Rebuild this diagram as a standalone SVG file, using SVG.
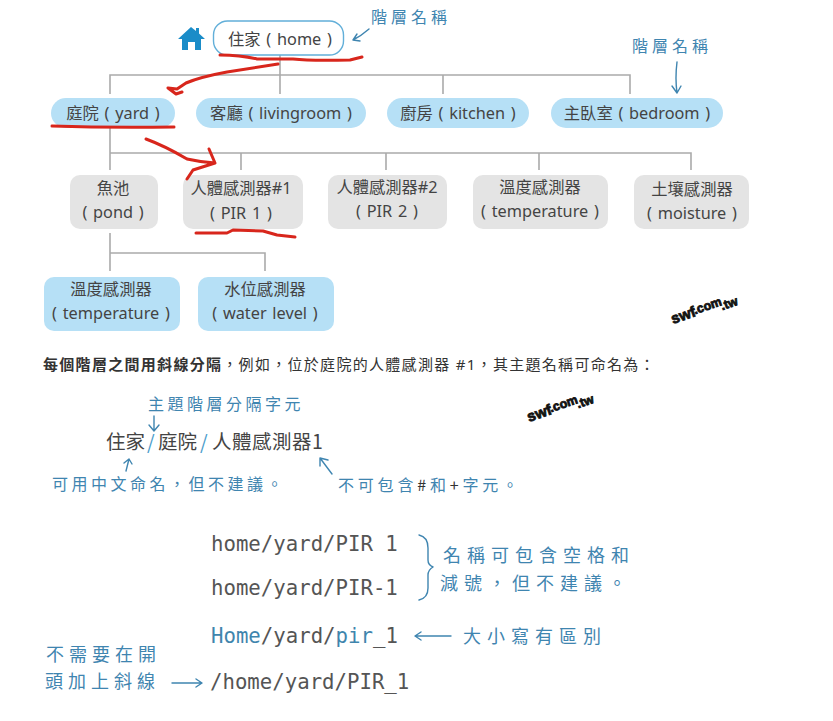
<svg xmlns="http://www.w3.org/2000/svg" width="833" height="721" viewBox="0 0 833 721">
<style>
.n{font-family:"Noto Sans","Noto Sans CJK TC",sans-serif;font-size:16.300px;word-spacing:1.500px;fill:#444;text-anchor:middle}
.blue{fill:#b6e0f6}.gray{fill:#e4e4e4}
.conn{fill:none;stroke:#aaa;stroke-width:1.6}
.red{fill:none;stroke:#d8261c;stroke-width:3;stroke-linecap:round;stroke-linejoin:round}
.h{font-family:"Noto Sans CJK TC",sans-serif;font-weight:400;fill:#3f85b0}
.ha{fill:none;stroke:#3f85b0;stroke-width:1.4;stroke-linecap:round;stroke-linejoin:round}
.m{font-family:"DejaVu Sans Mono",monospace;font-size:20.7px;fill:#555}
.p{font-family:"Noto Sans CJK TC",sans-serif;font-size:19.5px;fill:#444}
.w{font-family:"Liberation Sans",sans-serif;font-weight:700;fill:#111;stroke:#111;stroke-width:.8}
.s{font-family:"Noto Sans","Noto Sans CJK TC",sans-serif;font-size:15px;letter-spacing:1.300px;fill:#333}
</style>
<rect width="833" height="721" fill="#fff"/>
<g id="connectors">
<path class="conn" d="M280 55V94M110 94V75H630V94M443 75V94M110 128V170M110 153H691V170M241 153V170M386 153V170M539 153V170M691 153V170M110 233V271M110 253H265V271"/>
</g>
<g id="icon-home"><path d="M191 27 L178 39 L182 39 L182 50 L188 50 L188 42 L195 42 L195 50 L201 50 L201 39 L205 39 L199 33.500 L199 28 L196 28 L196 31 Z" fill="#1a8cc8"/></g>
<g id="node-home"><rect x="213.500" y="21" width="130" height="34" rx="14" fill="#fff" stroke="#62afd9" stroke-width="1.400"/><text class="n" x="280" y="45">住家 ( home )</text></g>
<g id="node-yard"><rect class="blue" x="51" y="98" width="124" height="30" rx="15"/><text class="n" x="113" y="119">庭院 ( yard )</text></g>
<g id="node-livingroom"><rect class="blue" x="196" y="98" width="170" height="30" rx="15"/><text class="n" x="281" y="119">客廳 ( livingroom )</text></g>
<g id="node-kitchen"><rect class="blue" x="387" y="98" width="142" height="30" rx="15"/><text class="n" x="458" y="119">廚房 ( kitchen )</text></g>
<g id="node-bedroom"><rect class="blue" x="551" y="98" width="172" height="30" rx="15"/><text class="n" x="637" y="119">主臥室 ( bedroom )</text></g>
<g id="node-pond"><rect class="gray" x="70" y="175" width="88" height="54" rx="10"/><text class="n" x="113" y="194">魚池</text><text class="n" x="113" y="218">( pond )</text></g>
<g id="node-pir1"><rect class="gray" x="183" y="175" width="120" height="54" rx="10"/><text class="n" x="241" y="194">人體感測器#1</text><text class="n" x="241" y="219">( PIR 1 )</text></g>
<g id="node-pir2"><rect class="gray" x="328" y="175" width="119" height="54" rx="10"/><text class="n" x="387" y="193">人體感測器#2</text><text class="n" x="387" y="217">( PIR 2 )</text></g>
<g id="node-temperature"><rect class="gray" x="473" y="175" width="135" height="54" rx="10"/><text class="n" x="540" y="193">溫度感測器</text><text class="n" x="540" y="217">( temperature )</text></g>
<g id="node-moisture"><rect class="gray" x="634" y="175" width="115" height="54" rx="10"/><text class="n" x="692" y="195">土壤感測器</text><text class="n" x="692" y="219">( moisture )</text></g>
<g id="node-temp2"><rect class="blue" x="44" y="277" width="136" height="54" rx="10"/><text class="n" x="111" y="295">溫度感測器</text><text class="n" x="111" y="319">( temperature )</text></g>
<g id="node-water"><rect class="blue" x="198" y="277" width="136" height="54" rx="10"/><text class="n" x="265" y="295">水位感測器</text><text class="n" x="265" y="319">( water level )</text></g>
<g id="annotations-red">
<path class="red" d="M220 55 Q240 55 257 59 L293 59 Q310 61 350 60 L362 57"/>
<path class="red" d="M278 64 L227 72 Q200 77 186 83 L177 89 L168 88 M168 88 L176 94 L182 92"/>
<path class="red" d="M52 126 Q110 128 174 127"/>
<path class="red" d="M146 139 Q165 146 187 159 Q200 162 215 163 M209 149 L215 163 L193 170 L187 179"/>
<path class="red" d="M196 233 L227 233 L233 230 L263 231 L277 235 L295 237"/>
</g>
<g id="annotations-hand">
<text class="h" x="371" y="23" font-size="16" letter-spacing="4">階層名稱</text>
<path class="ha" d="M369 29 Q361 36 353 40 M353 40 L360 41 M353 40 L357 34"/>
<text class="h" x="632" y="52" font-size="16" letter-spacing="4">階層名稱</text>
<path class="ha" d="M677 62 Q675 78 677 93 M672 86 L677 93 L681 86"/>
<text class="h" x="148" y="410" font-size="16" letter-spacing="3.500">主題階層分隔字元</text>
<path class="ha" d="M154 416 V431 M149 425 L154 431 L159 425"/>
<text class="h" x="52" y="490" font-size="16" letter-spacing="3.500">可用中文命名&#xFF0C;但不建議。</text>
<path class="ha" d="M126 471 L129 459 M124 463 L129 459 L132 464"/>
<path class="ha" d="M332 474 L320 458 M320 466 L320 458 L328 460"/>
<text class="h" x="338" y="491" font-size="16" letter-spacing="3.800">不可包含<tspan fill="#333">#</tspan>和<tspan fill="#333">+</tspan>字元。</text>
<path class="ha" d="M419 535 Q428 537 428 548 V560 Q428 565 433 567 Q428 570 428 575 V588 Q428 598 419 600" stroke-width="1.600"/>
<text class="h" x="443" y="562" font-size="18" letter-spacing="6">名稱可包含空格和</text>
<text class="h" x="440" y="590" font-size="18" letter-spacing="6">減號&#xFF0C;但不建議。</text>
<path class="ha" d="M451 636 H415 M421 632 L415 636 L421 640"/>
<text class="h" x="463" y="643" font-size="18" letter-spacing="6">大小寫有區別</text>
<text class="h" x="46" y="661" font-size="18" letter-spacing="5">不需要在開</text>
<text class="h" x="45" y="688" font-size="18" letter-spacing="5">頭加上斜線</text>
<path class="ha" d="M172 683 H202 M196 679 L202 683 L196 687"/>
</g>
<g id="caption"><text class="s" x="43" y="370"><tspan font-weight="700">每個階層之間用斜線分隔</tspan>&#xFF0C;例如&#xFF0C;位於庭院的人體感測器 #1&#xFF0C;其主題名稱可命名為&#xFF1A;</text></g>
<g id="topic-path">
<text class="p" x="106" y="449">住家</text><text class="p" x="147" y="449" style="fill:#4a9ccb">/</text><text class="p" x="158" y="449">庭院</text><text class="p" x="200" y="449" style="fill:#4a9ccb">/</text><text class="p" x="212" y="449" letter-spacing=".5">人體感測器1</text>
</g>
<g id="topic-examples">
<text class="m" x="211" y="551">home/yard/PIR 1</text>
<text class="m" x="211" y="595">home/yard/PIR-1</text>
<text class="m" x="211" y="643"><tspan fill="#3f85ad">Home</tspan>/yard/<tspan fill="#3f85ad">pir</tspan>_1</text>
<text class="m" x="210" y="689">/home/yard/PIR_1</text>
</g>
<g id="watermarks">
<g transform="translate(673 324) rotate(-19)"><text class="w" font-size="15" x="0" y="0">swf</text><text class="w" font-size="12.500" x="24" y="-2">.com</text><text class="w" font-size="12.500" x="51" y="3">.tw</text></g>
<g transform="translate(529 422) rotate(-19)"><text class="w" font-size="15" x="0" y="0">swf</text><text class="w" font-size="12.500" x="24" y="-2">.com</text><text class="w" font-size="12.500" x="51" y="3">.tw</text></g>
</g>
</svg>
